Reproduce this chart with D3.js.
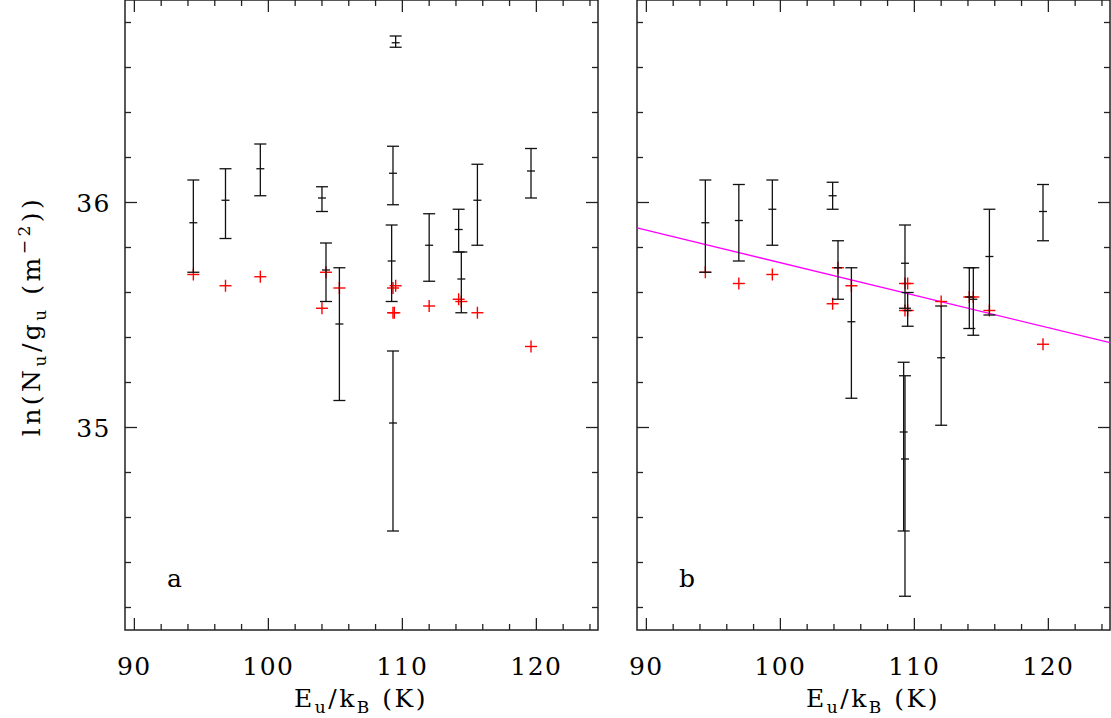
<!DOCTYPE html>
<html><head><meta charset="utf-8">
<script src="https://cdn.jsdelivr.net/npm/d3@7"></script>
<style>body{margin:0;background:#fff}text{font-family:"DejaVu Serif",serif;fill:#000}</style>
</head><body><svg id="c" width="1111" height="718"></svg>
<script>
// Panel a: error bars [x, center, top, bottom]
const barsA = [[94.4,35.91,36.10,35.69],[96.8,36.01,36.15,35.84],[99.4,36.15,36.26,36.03],[104.0,36.02,36.07,35.96],
 [104.3,35.70,35.82,35.56],[105.3,35.46,35.71,35.12],[109.5,36.71,36.74,36.69],[109.3,36.13,36.25,35.99],
 [109.2,35.74,35.90,35.56],[109.3,35.02,35.34,34.54],[112.0,35.81,35.95,35.65],[114.2,35.88,35.97,35.78],
 [114.4,35.66,35.78,35.51],[115.6,36.01,36.17,35.81],[119.6,36.14,36.24,36.02]];
const redA = [[94.4,35.68],[96.8,35.63],[99.4,35.67],[104.0,35.53],[104.3,35.69],[105.3,35.62],[109.3,35.62],[109.5,35.63],
 [109.3,35.51],[109.4,35.51],[112.0,35.54],[114.2,35.57],[114.4,35.56],[115.6,35.51],[119.6,35.36]];
// Panel b
const barsB = [[94.4,35.91,36.10,35.69],[96.9,35.92,36.08,35.74],[99.4,35.97,36.10,35.81],[103.9,36.03,36.09,35.97],
 [104.3,35.71,35.83,35.57],[105.3,35.47,35.71,35.13],[109.3,35.73,35.90,35.53],[109.5,35.52,35.60,35.45],
 [109.2,34.98,35.29,34.54],[109.3,34.86,35.23,34.25],[112.0,35.31,35.54,35.01],[114.1,35.58,35.71,35.44],
 [114.4,35.57,35.71,35.41],[115.6,35.76,35.97,35.50],[119.6,35.96,36.08,35.83]];
const redB = [[94.4,35.69],[96.9,35.64],[99.4,35.68],[103.9,35.55],[104.3,35.71],[105.3,35.63],[109.3,35.64],[109.5,35.64],
 [109.3,35.52],[109.5,35.52],[112.0,35.56],[114.1,35.58],[114.4,35.58],[115.6,35.52],[119.6,35.37]];
const fitLine = [[89.3,35.887],[124.6,35.377]];
const xTicks = [90,100,110,120];
const yTicks = [35,36];
const xDomain = [89.3,124.6], yDomain=[34.1,36.9];

const svg = d3.select("#c");
const y = d3.scaleLinear().domain(yDomain).range([630,0]);
function panel(x0, bars, reds, label, fit, yLabels){
  const x = d3.scaleLinear().domain(xDomain).range([x0, x0+473]);
  const g = svg.append("g");
  const k="#222";
  g.append("rect").attr("x",x0).attr("y",0).attr("width",473).attr("height",630).attr("fill","none").attr("stroke",k).attr("stroke-width",1.5);
  for(let v=90; v<=124; v+=2){
    const L = v%10===0?12:6;
    g.append("line").attr("x1",x(v)).attr("x2",x(v)).attr("y1",630).attr("y2",630-L).attr("stroke",k).attr("stroke-width",1.3);
    g.append("line").attr("x1",x(v)).attr("x2",x(v)).attr("y1",0).attr("y2",L).attr("stroke",k).attr("stroke-width",1.3);
  }
  for(let i=0;i<=14;i++){
    const v=34.2+i*0.2; const L = Math.abs(v-Math.round(v))<1e-6?12:6;
    g.append("line").attr("x1",x0).attr("x2",x0+L).attr("y1",y(v)).attr("y2",y(v)).attr("stroke",k).attr("stroke-width",1.3);
    g.append("line").attr("x1",x0+473).attr("x2",x0+473-L).attr("y1",y(v)).attr("y2",y(v)).attr("stroke",k).attr("stroke-width",1.3);
  }
  xTicks.forEach(v=>g.append("text").attr("x",x(v)).attr("y",675).attr("text-anchor","middle").attr("font-size",25).attr("letter-spacing",1.5).text(v));
  if(yLabels) yTicks.forEach(v=>g.append("text").attr("x",x0-14).attr("y",y(v)+9).attr("text-anchor","end").attr("font-size",25).attr("letter-spacing",1.5).text(v));
  const xl = g.append("text").attr("x",x0+236).attr("y",707).attr("text-anchor","middle").attr("font-size",25).attr("letter-spacing",2.5);
  xl.append("tspan").text("E");
  xl.append("tspan").attr("font-size",17).attr("dy",6).text("u");
  xl.append("tspan").attr("dy",-6).text("/k");
  xl.append("tspan").attr("font-size",17).attr("dy",6).text("B");
  xl.append("tspan").attr("dy",-6).text(" (K)");
  g.append("text").attr("x",x0+42).attr("y",587).attr("font-size",25).text(label);
  if(fit){
    g.append("line").attr("x1",x(fit[0][0])).attr("y1",y(fit[0][1])).attr("x2",x(fit[1][0])).attr("y2",y(fit[1][1])).attr("stroke","#ff00ff").attr("stroke-width",1.4);
  }
  reds.forEach(d=>{
    g.append("line").attr("x1",x(d[0])-6).attr("x2",x(d[0])+6).attr("y1",y(d[1])).attr("y2",y(d[1])).attr("stroke","red").attr("stroke-width",1.4);
    g.append("line").attr("x1",x(d[0])).attr("x2",x(d[0])).attr("y1",y(d[1])-6).attr("y2",y(d[1])+6).attr("stroke","red").attr("stroke-width",1.4);
  });
  bars.forEach(d=>{
    const cx=x(d[0]);
    g.append("line").attr("x1",cx).attr("x2",cx).attr("y1",y(d[2])).attr("y2",y(d[3])).attr("stroke","#111").attr("stroke-width",1.3);
    [d[2],d[3]].forEach(v=>g.append("line").attr("x1",cx-6).attr("x2",cx+6).attr("y1",y(v)).attr("y2",y(v)).attr("stroke","#111").attr("stroke-width",1.3));
    g.append("line").attr("x1",cx-4).attr("x2",cx+4).attr("y1",y(d[1])).attr("y2",y(d[1])).attr("stroke","#111").attr("stroke-width",1.3);
  });
}
panel(125, barsA, redA, "a", null, true);
panel(637, barsB, redB, "b", fitLine, false);
const yl = svg.append("text").attr("transform","translate(40,316) rotate(-90)").attr("text-anchor","middle").attr("font-size",25).attr("letter-spacing",3.5);
yl.append("tspan").text("ln(N");
yl.append("tspan").attr("font-size",17).attr("dy",6).text("u");
yl.append("tspan").attr("dy",-6).text("/g");
yl.append("tspan").attr("font-size",17).attr("dy",6).text("u");
yl.append("tspan").attr("dy",-6).text(" (m");
yl.append("tspan").attr("font-size",17).attr("dy",-10).text("−2");
yl.append("tspan").attr("dy",10).text("))");
</script></body></html>
